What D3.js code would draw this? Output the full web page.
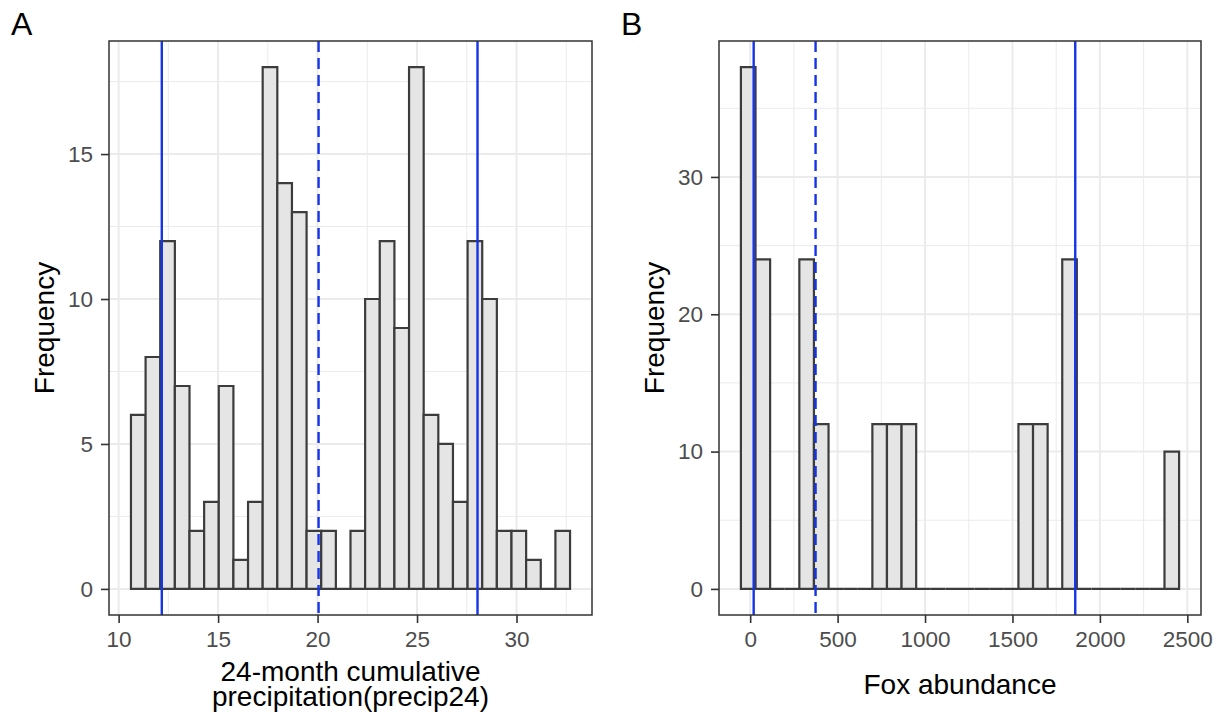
<!DOCTYPE html>
<html>
<head>
<meta charset="utf-8">
<script src="https://cdn.jsdelivr.net/npm/d3@7"></script>
<style>
  body { margin: 0; background: #fff; }
  text { font-family: "Liberation Sans", Arial, Helvetica, sans-serif; }
</style>
</head>
<body>
<svg width="1225" height="723"></svg>
<script>
// panel A - 24 month cumulative precipitation (30 bins)
var precipBinStart = 10.62, precipBinWidth = 0.7357;
var precipCounts = [6, 8, 12, 7, 2, 3, 7, 1, 3, 18, 14, 13, 2, 2, 0, 2, 10, 12, 9, 18, 6, 5, 3, 12, 10, 2, 2, 1, 0, 2];
var precipLines = [12.17, 20.05, 28.04];   // low, mean (dashed), high
var precipXTicks = [10, 15, 20, 25, 30];
var precipYTicks = [0, 5, 10, 15];

// panel B - fox abundance (30 bins)
var foxBinStart = -53, foxBinWidth = 83.53;
var foxCounts = [38, 24, 0, 0, 24, 12, 0, 0, 0, 12, 12, 12, 0, 0, 0, 0, 0, 0, 0, 12, 12, 0, 24, 0, 0, 0, 0, 0, 0, 10];
var foxLines = [20, 374, 1859];
var foxXTicks = [0, 500, 1000, 1500, 2000, 2500];
var foxYTicks = [0, 10, 20, 30];

var svg = d3.select("svg");
svg.append("rect").attr("width", 1225).attr("height", 723).attr("fill", "#fff");

function minors(ticks, dom) {
  var step = ticks[1] - ticks[0], out = [];
  for (var v = ticks[0] - step / 2; v <= ticks[ticks.length - 1] + step; v += step) {
    if (v >= dom[0] && v <= dom[1]) out.push(v);
  }
  return out;
}

function drawPanel(p) {
  var w = p.width, h = p.height;
  var n = p.counts.length;
  var lo = p.binStart, hi = p.binStart + n * p.binWidth;
  var padX = (hi - lo) * 0.05;
  var ymax = d3.max(p.counts);

  var x = d3.scaleLinear().domain([lo - padX, hi + padX]).range([0, w]);
  var y = d3.scaleLinear().domain([-ymax * 0.05, ymax * 1.05]).range([h, 0]);

  var g = svg.append("g").attr("transform", "translate(" + p.left + "," + p.top + ")");

  // grid
  var grid = g.append("g").attr("stroke", "#EBEBEB").attr("fill", "none");
  minors(p.xTicks, x.domain()).forEach(function(v) {
    grid.append("line").attr("x1", x(v)).attr("x2", x(v)).attr("y1", 0).attr("y2", h).attr("stroke-width", 1);
  });
  minors(p.yTicks, y.domain()).forEach(function(v) {
    grid.append("line").attr("y1", y(v)).attr("y2", y(v)).attr("x1", 0).attr("x2", w).attr("stroke-width", 1);
  });
  p.xTicks.forEach(function(v) {
    grid.append("line").attr("x1", x(v)).attr("x2", x(v)).attr("y1", 0).attr("y2", h).attr("stroke-width", 2);
  });
  p.yTicks.forEach(function(v) {
    grid.append("line").attr("y1", y(v)).attr("y2", y(v)).attr("x1", 0).attr("x2", w).attr("stroke-width", 2);
  });

  // bars (paths so empty bins still show as a flat line)
  g.append("g").selectAll("path")
    .data(p.counts)
    .join("path")
    .attr("d", function(d, i) {
      var x0 = x(p.binStart + i * p.binWidth), x1 = x(p.binStart + (i + 1) * p.binWidth);
      return "M" + x0 + "," + y(0) + "H" + x1 + "V" + y(d) + "H" + x0 + "Z";
    })
    .attr("fill", "#E5E5E5")
    .attr("stroke", "#3C3C3C")
    .attr("stroke-width", 2.2);

  // reference lines
  g.append("g").selectAll("line")
    .data(p.lines)
    .join("line")
    .attr("x1", d => x(d)).attr("x2", d => x(d))
    .attr("y1", 0).attr("y2", h)
    .attr("stroke", "#1534E8")
    .attr("stroke-width", 2.4)
    .attr("stroke-dasharray", (d, i) => i == 1 ? "11,6" : null);

  // panel border
  g.append("rect").attr("width", w).attr("height", h)
    .attr("fill", "none").attr("stroke", "#333").attr("stroke-width", 1.5);

  // axes
  var xa = g.append("g").attr("transform", "translate(0," + h + ")")
    .call(d3.axisBottom(x).tickValues(p.xTicks).tickFormat(d3.format("d")).tickSize(8).tickPadding(8));
  var ya = g.append("g")
    .call(d3.axisLeft(y).tickValues(p.yTicks).tickFormat(d3.format("d")).tickSize(8).tickPadding(8));
  [xa, ya].forEach(function(a) {
    a.select(".domain").remove();
    a.selectAll(".tick line").attr("stroke", "#333").attr("stroke-width", 1.6);
    a.selectAll(".tick text").attr("fill", "#4D4D4D").style("font-size", "22.5px")
      .style("font-family", "'Liberation Sans', Arial, sans-serif");
  });

  // titles
  p.xTitle.forEach(function(t, i) {
    g.append("text").attr("text-anchor", "middle").style("font-size", "28px").attr("fill", "#000")
      .attr("x", w / 2).attr("y", p.xTitleY[i] - p.top).text(t);
  });
  g.append("text")
    .attr("transform", "translate(" + (-55) + "," + (h / 2) + ") rotate(-90)")
    .attr("text-anchor", "middle")
    .style("font-size", "28px")
    .text("Frequency");

  svg.append("text").attr("x", p.labelX).attr("y", 35)
    .style("font-size", "32px").text(p.label);
}

drawPanel({
  left: 109, top: 41, width: 483, height: 574,
  counts: precipCounts, binStart: precipBinStart, binWidth: precipBinWidth,
  lines: precipLines, xTicks: precipXTicks, yTicks: precipYTicks,
  xTitle: ["24-month cumulative", "precipitation(precip24)"], xTitleY: [681, 706],
  label: "A", labelX: 11
});

drawPanel({
  left: 719, top: 41, width: 482, height: 574,
  counts: foxCounts, binStart: foxBinStart, binWidth: foxBinWidth,
  lines: foxLines, xTicks: foxXTicks, yTicks: foxYTicks,
  xTitle: ["Fox abundance"], xTitleY: [694],
  label: "B", labelX: 621
});
</script>
</body>
</html>
